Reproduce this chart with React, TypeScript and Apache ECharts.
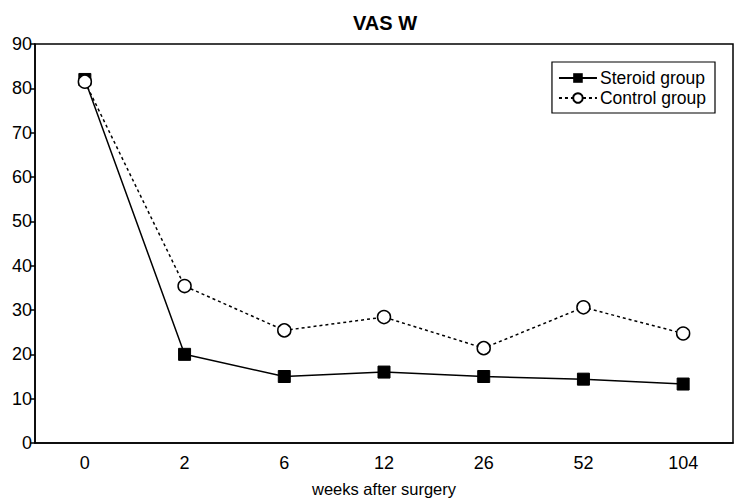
import React, { useEffect, useRef } from "react";
import * as echarts from "echarts";

const categories = ["0", "2", "6", "12", "26", "52", "104"];
const steroid = [82, 20, 15, 16, 15, 14.4, 13.3];
const control = [81.5, 35.4, 25.4, 28.4, 21.4, 30.6, 24.7];
const yTicks = { min: 0, max: 90, interval: 10 };

export default function App() {
  const ref = useRef<HTMLDivElement>(null);
  useEffect(() => {
    const chart = echarts.init(ref.current!, null, { renderer: "svg" });
    const font = "Liberation Sans, Arial, sans-serif";
    chart.setOption({
      animation: false,
      backgroundColor: "#fff",
      textStyle: { fontFamily: font, color: "#000" },
      title: {
        text: "VAS W",
        left: 348,
        top: 8,
        textStyle: { fontFamily: font, fontSize: 20, fontWeight: "bold", color: "#000" },
      },
      grid: {
        left: 35,
        right: 5,
        top: 44,
        bottom: 59,
        show: true,
        borderColor: "#000",
        borderWidth: 1.5,
        backgroundColor: "transparent",
        outerBoundsMode: "none",
        containLabel: false,
      },
      legend: {
        right: 23,
        top: 62,
        orient: "vertical",
        itemWidth: 38,
        itemHeight: 12,
        itemGap: 2,
        padding: [7, 9, 6, 6],
        borderColor: "#000",
        borderWidth: 1.2,
        backgroundColor: "#fff",
        textStyle: { fontFamily: font, fontSize: 17.5, color: "#000", padding: [0, 0, 0, -2] },
        data: ["Steroid group", "Control group"],
      },
      xAxis: {
        type: "category",
        data: categories,
        boundaryGap: true,
        name: "weeks after surgery",
        nameLocation: "middle",
        nameGap: 37,
        nameTextStyle: { fontFamily: font, fontSize: 16.5, color: "#000" },
        axisLine: { lineStyle: { color: "#000", width: 1.5 } },
        axisTick: { show: false },
        axisLabel: { fontFamily: font, fontSize: 18, color: "#000", margin: 11 },
        splitLine: { show: false },
      },
      yAxis: {
        type: "value",
        min: yTicks.min,
        max: yTicks.max,
        interval: yTicks.interval,
        axisLine: { show: true, lineStyle: { color: "#000", width: 1.5 } },
        axisTick: { show: true, length: 5, lineStyle: { color: "#000", width: 1.5 } },
        axisLabel: { fontFamily: font, fontSize: 18, color: "#000", margin: 3 },
        splitLine: { show: false },
      },
      series: [
        {
          name: "Steroid group",
          type: "line",
          data: steroid,
          symbol: "rect",
          symbolSize: 12,
          itemStyle: { color: "#000", borderColor: "#000" },
          lineStyle: { color: "#000", width: 1.5, type: "solid" },
          z: 3,
        },
        {
          name: "Control group",
          type: "line",
          data: control,
          symbol: "circle",
          symbolSize: 13,
          showAllSymbol: true,
          itemStyle: { color: "#fff", borderColor: "#000", borderWidth: 1.5 },
          lineStyle: { color: "#000", width: 1.5, type: [3, 3] },
          z: 4,
        },
      ],
    });
    return () => chart.dispose();
  }, []);
  return <div ref={ref} style={{ width: 738, height: 502, position: "absolute", left: 0, top: 0 }} />;
}
